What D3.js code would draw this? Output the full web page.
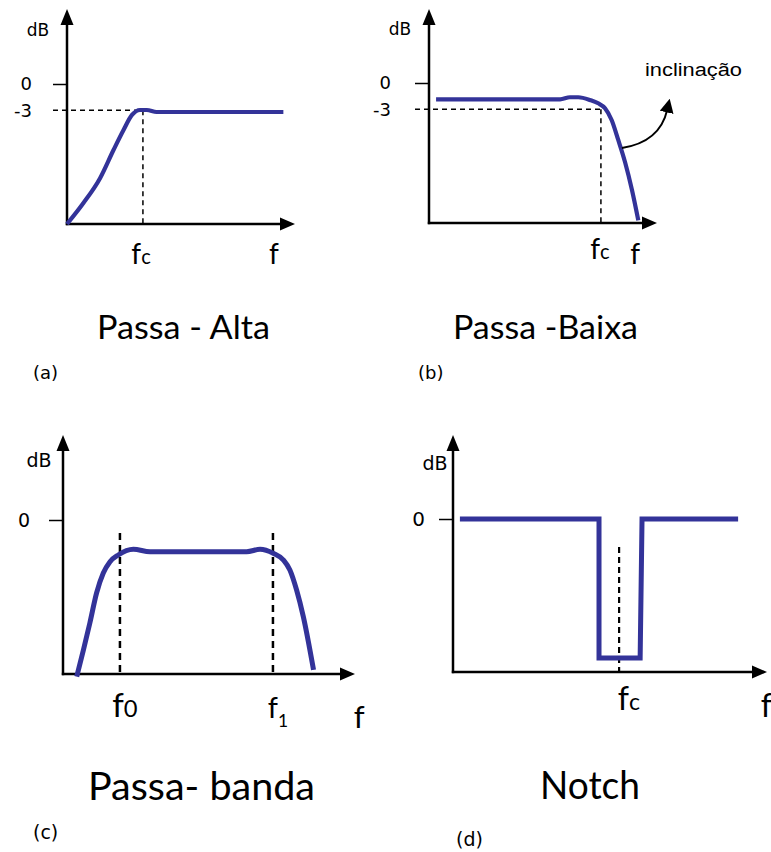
<!DOCTYPE html>
<html><head><meta charset="utf-8">
<script src="https://cdn.jsdelivr.net/npm/d3@7"></script>
<style>body{margin:0;background:#fff}svg{display:block}</style>
</head><body>
<script>
// ---------------- data ----------------
const cutoffDb = -3;
const ticksAB = [0, -3];
const ticksCD = [0];

// (a) Passa-Alta
const highPassFreq = [0, 0.72, 1.45, 2.04, 2.48, 2.85, 3.2, 3.5, 3.93, 9.49];
const highPassDb   = [-16, -13.6, -10.76, -7.54, -5.26, -3.54, -2.97, -2.97, -3.2, -3.2];
const highPassFc = 3.33;

// (b) Passa-Baixa
const lowPassFreq = [0.31, 5.75, 6.18, 6.55, 7.06, 7.42, 7.72, 8.01, 8.3, 8.6, 8.9, 9.18];
const lowPassDb   = [-1.86, -1.86, -1.63, -1.63, -1.94, -2.32, -2.89, -4.23, -6.51, -9.06, -12.2, -15.7];
const lowPassFc = 7.54;
const slopeFrom = [8.46, -7.43];
const slopeCtrl = [10.13, -6.74];
const slopeTo   = [10.45, -1.9];
const slopeText = "inclinação";

// (c) Passa-banda
const bandPassFreq = [0.47, 0.70, 0.92, 1.15, 1.38, 1.61, 1.89, 2.41, 2.98, 6.29, 6.75, 7.2, 7.55, 7.77, 8.0, 8.23, 8.58];
const bandPassDb   = [-15.26, -12.66, -10.03, -7.11, -5.17, -4.06, -3.41, -2.85, -3.09, -3.09, -2.85, -3.24, -3.9, -4.87, -6.82, -9.41, -14.6];
const bandPassF0 = 1.95;
const bandPassF1 = 7.19;

// (d) Notch
const notchFreq = [0.22, 4.65, 4.65, 5.96, 6.02, 9.08];
const notchDb   = [0, 0, -13.63, -13.63, 0, 0];
const notchFc = 5.29;

const titles = ["Passa - Alta", "Passa -Baixa", "Passa- banda", "Notch"];
const tags = ["(a)", "(b)", "(c)", "(d)"];
const yUnit = "dB";

// ---------------- drawing ----------------
const FONT = "Lato, 'Open Sans', sans-serif";
const SMALL = "'DejaVu Sans', sans-serif";
const BLUE = "#333399";
const W = 771, H = 852;
const svg = d3.select("body").append("svg").attr("width", W).attr("height", H);
svg.append("rect").attr("width", W).attr("height", H).attr("fill", "#fff");

const defs = svg.append("defs");
defs.append("marker").attr("id", "ah").attr("viewBox", "0 0 10 10")
  .attr("refX", 2).attr("refY", 5).attr("markerWidth", 14).attr("markerHeight", 14)
  .attr("markerUnits", "userSpaceOnUse").attr("orient", "auto")
  .append("path").attr("d", "M0,0 L10,5 L0,10 z").attr("fill", "#000");

const panels = [
  { freq: highPassFreq, db: highPassDb, curve: d3.curveMonotoneX, x0: 67, y0: 224, xTip: 295, yTip: 9, yZero: 84, yMin: -16,
    ticks: ticksAB, pad: 21, tickFs: 18, lw: 4.2, dashW: 1.5, dash: "5,4",
    unit: { x: 38, y: 36, fs: 17 },
    hDash: highPassFc, vDash: [{ f: highPassFc, top: cutoffDb }],
    xLabels: [{ m: "f", s: "c", v: 3.25, y: 264, fs: 28 }, { m: "f", v: 9.08, y: 264, fs: 28 }],
    title: { x: 97, y: 339, len: 173, fs: 33 }, tag: { x: 33, y: 379, fs: 18 } },
  { freq: lowPassFreq, db: lowPassDb, curve: d3.curveMonotoneX, x0: 429, y0: 223, xTip: 657, yTip: 9, yZero: 83, yMin: -16,
    ticks: ticksAB, pad: 24, tickFs: 18, lw: 4.2, dashW: 1.5, dash: "5,4",
    unit: { x: 400, y: 35, fs: 17 },
    hDash: lowPassFc, vDash: [{ f: lowPassFc, top: cutoffDb }],
    xLabels: [{ m: "f", s: "c", v: 7.5, y: 259, fs: 28 }, { m: "f", v: 9.04, y: 264, fs: 28 }],
    title: { x: 453, y: 339, len: 185, fs: 33 }, tag: { x: 418, y: 379, fs: 18 } },
  { freq: bandPassFreq, db: bandPassDb, curve: d3.curveMonotoneX, x0: 63, y0: 674, xTip: 355, yTip: 435, yZero: 520, yMin: -15,
    ticks: ticksCD, pad: 19, tickFs: 19, lw: 5, dashW: 2.5, dash: "7,5",
    unit: { x: 39, y: 467, fs: 19 },
    hDash: null, vDash: [{ f: bandPassF0, top: -1.27 }, { f: bandPassF1, top: -1.27 }],
    xLabels: [{ m: "f", s: "0", v: 2.12, y: 717, fs: 33 }, { m: "f", s1: "1", v: 7.36, y: 718, fs: 29 }, { m: "f", v: 10.14, y: 728, fs: 31 }],
    title: { x: 88, y: 800, len: 227, fs: 38 }, tag: { x: 33, y: 839, fs: 19 } },
  { freq: notchFreq, db: notchDb, curve: d3.curveLinear, x0: 453, y0: 672, xTip: 767, yTip: 435, yZero: 519, yMin: -15,
    ticks: ticksCD, pad: 14, tickFs: 20, lw: 5, dashW: 2.2, dash: "6,4",
    unit: { x: 435, y: 470, fs: 19 },
    hDash: null, vDash: [{ f: notchFc, top: -2.75 }],
    xLabels: [{ m: "f", s: "c", v: 5.6, y: 710, fs: 32 }, { m: "f", v: 9.98, y: 717, fs: 32 }],
    title: { x: 540, y: 799, len: 100, fs: 38 }, tag: { x: 456, y: 846, fs: 19 } }
];

panels.forEach((p, i) => {
  const g = svg.append("g");
  const x = d3.scaleLinear().domain([0, 10]).range([p.x0, p.xTip]);
  const y = d3.scaleLinear().domain([p.yMin, 0]).range([p.y0, p.yZero]);

  // tick axis
  const ax = g.append("g").attr("transform", `translate(${p.x0},0)`)
    .call(d3.axisLeft(y).tickValues(p.ticks).tickSize(14).tickPadding(p.pad).tickFormat(d => String(d)));
  ax.select(".domain").remove();
  ax.selectAll(".tick line").attr("stroke", "#000").attr("stroke-width", 1.5)
    .attr("display", d => d === cutoffDb ? "none" : null);
  ax.selectAll(".tick text").attr("font-size", p.tickFs).attr("font-family", SMALL).attr("fill", "#000");

  // dashed guides
  if (p.hDash !== null) {
    g.append("line").attr("x1", p.x0 - 14).attr("x2", x(p.hDash)).attr("y1", y(cutoffDb)).attr("y2", y(cutoffDb))
      .attr("stroke", "#000").attr("stroke-width", p.dashW).attr("stroke-dasharray", p.dash);
  }
  p.vDash.forEach(v => {
    g.append("line").attr("x1", x(v.f)).attr("x2", x(v.f)).attr("y1", y(v.top)).attr("y2", p.y0)
      .attr("stroke", "#000").attr("stroke-width", p.dashW).attr("stroke-dasharray", p.dash);
  });

  // axis lines + arrowheads
  g.append("line").attr("x1", p.x0).attr("y1", p.y0 + 1.2).attr("x2", p.x0).attr("y2", p.yTip + 10)
    .attr("stroke", "#000").attr("stroke-width", 2.5);
  g.append("line").attr("x1", p.x0 - 1.2).attr("y1", p.y0).attr("x2", p.xTip - 10).attr("y2", p.y0)
    .attr("stroke", "#000").attr("stroke-width", 2.5);
  g.append("path").attr("d", `M${p.x0},${p.yTip} L${p.x0 - 6.5},${p.yTip + 16} L${p.x0 + 6.5},${p.yTip + 16} Z`).attr("fill", "#000");
  g.append("path").attr("d", `M${p.xTip},${p.y0} L${p.xTip - 15},${p.y0 - 6.5} L${p.xTip - 15},${p.y0 + 6.5} Z`).attr("fill", "#000");

  // unit label
  g.append("text").attr("x", p.unit.x).attr("y", p.unit.y).attr("text-anchor", "middle")
    .attr("font-family", SMALL).attr("font-size", p.unit.fs).text(yUnit);

  // response curve
  const pts = p.freq.map((f, k) => [f, p.db[k]]);
  const line = d3.line().x(d => x(d[0])).y(d => y(d[1])).curve(p.curve);
  g.append("path").attr("d", line(pts)).attr("fill", "none").attr("stroke", BLUE)
    .attr("stroke-width", p.lw).attr("stroke-linejoin", p.curve === d3.curveLinear ? "miter" : "round");

  // x labels
  p.xLabels.forEach(l => {
    const t = g.append("text").attr("x", x(l.v)).attr("y", l.y).attr("text-anchor", "middle")
      .attr("font-family", FONT).attr("font-size", l.fs);
    t.append("tspan").text(l.m);
    if (l.s) t.append("tspan").attr("font-size", l.fs * 0.72).text(l.s);
    if (l.s1) t.append("tspan").attr("font-size", l.fs * 0.6).attr("dy", l.fs * 0.3).text(l.s1);
  });

  // title & tag
  g.append("text").attr("x", p.title.x).attr("y", p.title.y).attr("font-family", FONT)
    .attr("font-size", p.title.fs).attr("textLength", p.title.len).attr("lengthAdjust", "spacingAndGlyphs")
    .text(titles[i]);
  g.append("text").attr("x", p.tag.x).attr("y", p.tag.y).attr("font-family", SMALL)
    .attr("font-size", p.tag.fs).text(tags[i]);

  // slope annotation on low-pass panel
  if (i === 1) {
    const path = d3.path();
    path.moveTo(x(slopeFrom[0]), y(slopeFrom[1]));
    path.quadraticCurveTo(x(slopeCtrl[0]), y(slopeCtrl[1]), x(slopeTo[0]), y(slopeTo[1]) + 10);
    g.append("path").attr("d", path.toString()).attr("fill", "none").attr("stroke", "#000")
      .attr("stroke-width", 2).attr("marker-end", "url(#ah)");
    g.append("text").attr("x", 645).attr("y", 76).attr("font-family", "'Liberation Sans', Arial, sans-serif")
      .attr("font-size", 18).attr("textLength", 97).attr("lengthAdjust", "spacingAndGlyphs").text(slopeText);
  }
});
</script>
</body></html>
